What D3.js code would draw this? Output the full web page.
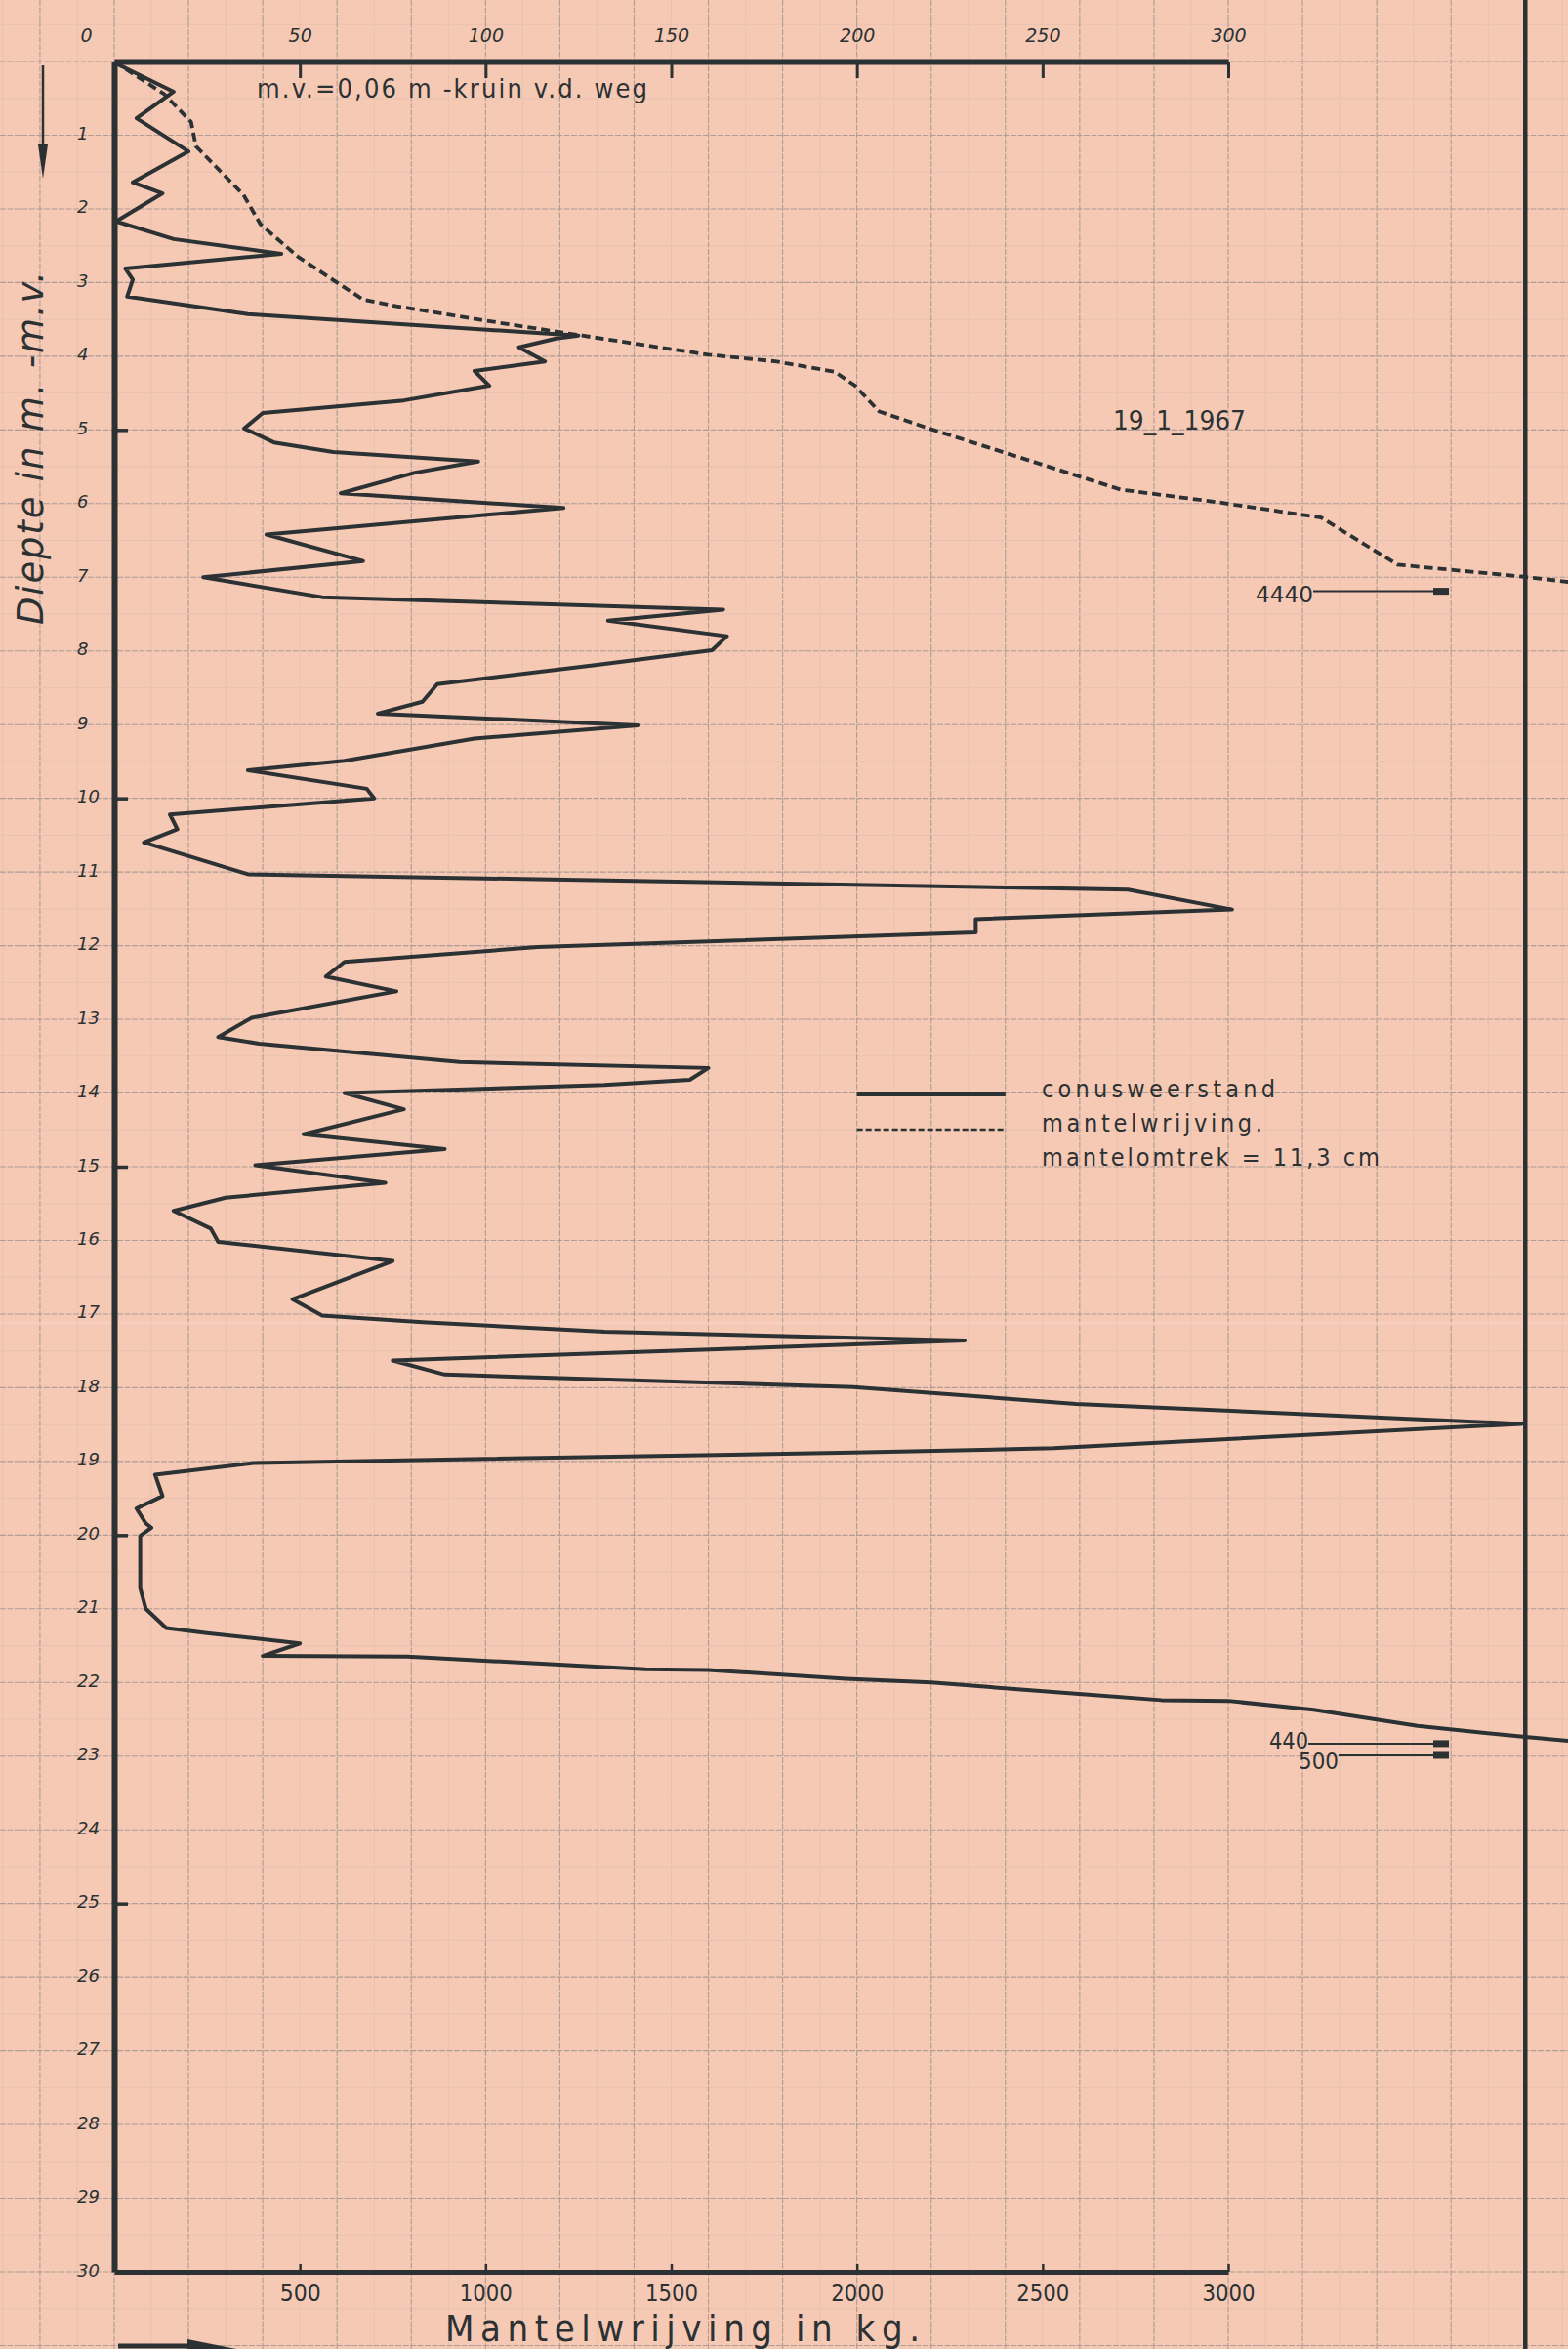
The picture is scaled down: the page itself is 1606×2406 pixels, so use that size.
<!DOCTYPE html>
<html lang="nl">
<head>
<meta charset="UTF-8">
<title>Sondering 19-1-1967</title>
<script src="https://cdn.jsdelivr.net/npm/d3@7"></script>
<style>
    body { margin: 0; background: #f5c9b4; }
    svg { display: block; }
    .grid line { stroke: #ae9c95; stroke-width: 1.1; stroke-dasharray: 6,1.5; }
    .grid2 line { stroke: #e8c2b0; stroke-width: 1; }
    .lbl { fill: #2c3133; font-family: "DejaVu Sans Condensed", "Liberation Sans Narrow", "DejaVu Sans", sans-serif; font-stretch: condensed; }
    .ital { fill: #2c3133; font-family: "DejaVu Sans", "Liberation Sans", sans-serif; font-style: italic; }
</style>
</head>
<body>
<svg id="vis" width="1606" height="2406"></svg>
<script>
    // conusweerstand (kg/cm2, bovenste schaal)
    const conusDepth = [0, 0.04, 0.41, 0.77, 1.22, 1.64, 1.79, 2.17, 2.41, 2.61, 2.81, 2.96, 3.19, 3.43, 3.72, 3.76, 3.88, 4.07, 4.20, 4.40,
        4.60, 4.77, 4.98, 5.17, 5.30, 5.43, 5.58, 5.86, 6.06, 6.42, 6.78, 7.00, 7.27, 7.44, 7.59, 7.80, 7.99, 8.19, 8.45, 8.69,
        8.85, 9.01, 9.19, 9.49, 9.62, 9.87, 10.00, 10.22, 10.42, 10.60, 11.03, 11.24, 11.51, 11.64, 11.82, 12.02, 12.22, 12.42, 12.62, 12.98,
        13.24, 13.33, 13.58, 13.66, 13.82, 13.89, 14.00, 14.22, 14.56, 14.76, 14.98, 15.22, 15.42, 15.60, 15.84, 16.02, 16.28, 16.80, 17.02, 17.11,
        17.24, 17.36, 17.63, 17.82, 17.99, 18.22, 18.49, 18.82, 18.88, 19.02, 19.18, 19.47, 19.64, 19.84, 19.90, 20.01, 20.72, 21.00, 21.26, 21.33,
        21.47, 21.64, 21.65, 21.71, 21.82, 21.83, 21.95, 22.00, 22.15, 22.24, 22.25, 22.37, 22.59, 22.74, 22.85];
    const conusValue = [0, 1, 16, 6, 20, 5, 13, 0.5, 16, 45, 3, 5, 3.5, 36, 125, 119, 109, 116, 97, 101,
        78, 40, 35, 43, 59, 98, 81, 61, 121, 41, 67, 24, 56, 164, 133, 165, 161, 130, 87, 83,
        71, 141, 97, 62, 36, 68, 70, 15, 17, 8, 36, 273, 301, 232, 232, 114, 62, 57, 76, 37,
        28, 39, 93, 160, 155, 132, 62, 78, 51, 89, 38, 73, 30, 16, 26, 28, 75, 48, 56, 83,
        132, 229, 75, 89, 199, 259, 379, 253, 199, 38, 11, 13, 6, 8.5, 10, 7, 7, 8.5, 14, 25,
        50, 40, 79, 102, 143, 160, 197, 220, 258, 282, 300, 323, 351, 380, 405];

    // mantelwrijving (kg, onderste schaal)
    const mantelDepth = [0, 0.44, 0.82, 1.15, 1.81, 2.21, 2.65, 3.05, 3.23, 3.32, 3.54, 3.72, 3.98, 4.07, 4.21, 4.40, 4.75, 4.99, 5.81, 5.98,
        6.19, 6.83, 6.99, 7.06, 7.12];
    const mantelValue = [0, 134, 207, 220, 348, 394, 495, 615, 670, 760, 1030, 1260, 1600, 1780, 1940, 1995, 2060, 2200, 2710, 2970,
        3250, 3456, 3790, 3910, 4020];

    const conusTicks = [0, 50, 100, 150, 200, 250, 300];
    const mantelTicks = [500, 1000, 1500, 2000, 2500, 3000];
    const depthTicks = [1, 2, 3, 4, 5, 6, 7, 8, 9, 10, 11, 12, 13, 14, 15, 16, 17, 18, 19, 20, 21, 22, 23, 24, 25, 26, 27, 28, 29, 30];
    const depthMajor = [5, 10, 15, 20, 25];

    const ink = "#2c3133";

    let svg = d3.select("#vis");
    let width = +svg.attr("width");
    let height = +svg.attr("height");

    let x = d3.scaleLinear().domain([0, 300]).range([117, 1258]);
    let xm = d3.scaleLinear().domain([0, 3000]).range([117, 1258]);
    let y = d3.scaleLinear().domain([0, 30]).range([63, 2327]);

    svg.append("rect").attr("width", width).attr("height", height).attr("fill", "#f5c9b4");

    /* ruitjespapier */
    let g2 = svg.append("g").attr("class", "grid2");
    g2.selectAll("line.v").data(d3.range(-30, 400, 20)).join("line").attr("class", "v")
        .attr("x1", d => x(d)).attr("x2", d => x(d)).attr("y1", 0).attr("y2", height);
    g2.selectAll("line.h").data(d3.range(-0.5, 31, 1)).join("line").attr("class", "h")
        .attr("x1", 0).attr("x2", width).attr("y1", d => y(d)).attr("y2", d => y(d));

    let g = svg.append("g").attr("class", "grid");
    g.selectAll("line.v").data(d3.range(-20, 400, 20)).join("line").attr("class", "v")
        .attr("x1", d => x(d)).attr("x2", d => x(d)).attr("y1", 0).attr("y2", height);
    g.selectAll("line.h").data(d3.range(0, 32, 1)).join("line").attr("class", "h")
        .attr("x1", 0).attr("x2", width).attr("y1", d => y(d)).attr("y2", d => y(d));

    // vouw in het papier
    svg.append("line").attr("x1", 0).attr("x2", width).attr("y1", y(17.12)).attr("y2", y(17.12))
        .attr("stroke", "#f7d6c6").attr("stroke-width", 2.5).attr("opacity", 0.6);

    /* assen */
    let topAxis = svg.append("g")
        .attr("transform", "translate(0," + y(0) + ")")
        .call(d3.axisTop(x).tickValues(conusTicks).tickSizeInner(-17).tickSizeOuter(0).tickPadding(20));
    topAxis.select(".domain").attr("stroke", ink).attr("stroke-width", 6);
    topAxis.selectAll(".tick line").attr("stroke", ink).attr("stroke-width", 3);
    topAxis.selectAll(".tick text").attr("class", "ital").style("font-size", "19px");
    topAxis.selectAll(".tick").filter(d => d === 0).select("line").remove();
    topAxis.selectAll(".tick").filter(d => d === 0).select("text").attr("x", -29);

    let leftAxis = svg.append("g")
        .attr("transform", "translate(" + x(0) + ",0)")
        .call(d3.axisRight(y).tickValues(depthMajor).tickSizeInner(14).tickSizeOuter(0).tickFormat(""));
    leftAxis.select(".domain").attr("stroke", ink).attr("stroke-width", 6);
    leftAxis.selectAll(".tick line").attr("stroke", ink).attr("stroke-width", 3.5);

    let bottomAxis = svg.append("g")
        .attr("transform", "translate(0," + y(30) + ")")
        .call(d3.axisBottom(xm).tickValues(mantelTicks).tickSizeInner(-8).tickSizeOuter(0).tickPadding(12)
            .tickFormat(d3.format("d")));
    bottomAxis.select(".domain").attr("stroke", ink).attr("stroke-width", 5);
    bottomAxis.selectAll(".tick line").attr("stroke", ink).attr("stroke-width", 2.5);
    bottomAxis.selectAll(".tick text").attr("class", "lbl").style("font-size", "25px")
        .attr("textLength", 42).attr("lengthAdjust", "spacingAndGlyphs");
    bottomAxis.selectAll(".tick").filter(d => d >= 1000).select("text")
        .attr("textLength", 54);

    // rechter kader
    svg.append("line").attr("x1", x(380)).attr("x2", x(380)).attr("y1", 0).attr("y2", height)
        .attr("stroke", ink).attr("stroke-width", 4.5);

    svg.selectAll("text.depth")
        .data(depthTicks)
        .join("text")
        .attr("class", "ital depth")
        .attr("x", 79)
        .attr("y", d => y(d) - 2)
        .attr("dominant-baseline", "central")
        .style("font-size", "18px")
        .text(d => d);

    /* lijnen */
    let conus = conusDepth.map((d, i) => [conusValue[i], d]);
    let mantel = mantelDepth.map((d, i) => [mantelValue[i], d]);

    svg.append("path")
        .datum(mantel)
        .attr("d", d3.line().x(d => xm(d[0])).y(d => y(d[1])))
        .attr("fill", "none").attr("stroke", ink).attr("stroke-width", 3.8)
        .attr("stroke-dasharray", "9,5");

    svg.append("path")
        .datum(conus)
        .attr("d", d3.line().x(d => x(d[0])).y(d => y(d[1])))
        .attr("fill", "none").attr("stroke", ink).attr("stroke-width", 4)
        .attr("stroke-linejoin", "round");

    /* teksten */
    svg.append("text").attr("class", "lbl").attr("x", 263).attr("y", 100)
        .attr("textLength", 400).style("font-size", "27px")
        .text("m.v.=0,06 m -kruin v.d. weg");

    svg.append("text").attr("class", "lbl").attr("x", 1140).attr("y", 440)
        .attr("textLength", 136).attr("lengthAdjust", "spacingAndGlyphs").style("font-size", "27px")
        .text("19_1_1967");

    svg.append("text").attr("class", "ital")
        .attr("transform", "translate(44,640) rotate(-90)")
        .attr("textLength", 362).style("font-size", "37px")
        .text("Diepte in m. -m.v.");

    svg.append("text").attr("class", "lbl").attr("x", 456).attr("y", 2398)
        .attr("textLength", 486).style("font-size", "38px")
        .text("Mantelwrijving  in  kg.");

    // pijlen
    svg.append("line").attr("x1", 44).attr("x2", 44).attr("y1", 67).attr("y2", 160)
        .attr("stroke", ink).attr("stroke-width", 2.5);
    svg.append("path").attr("d", "M39,148 L49,148 L44,183 Z").attr("fill", ink);
    svg.append("line").attr("x1", 121).attr("x2", 200).attr("y1", 2403).attr("y2", 2403)
        .attr("stroke", ink).attr("stroke-width", 5);
    svg.append("path").attr("d", "M192,2396 L242,2406 L192,2416 Z").attr("fill", ink);

    /* legenda */
    svg.append("line").attr("x1", x(200)).attr("x2", x(240)).attr("y1", 1121).attr("y2", 1121)
        .attr("stroke", ink).attr("stroke-width", 4);
    svg.append("line").attr("x1", x(200)).attr("x2", x(240)).attr("y1", 1157).attr("y2", 1157)
        .attr("stroke", ink).attr("stroke-width", 2.5).attr("stroke-dasharray", "6,3");
    const legend = [["conusweerstand", 1124, 239], ["mantelwrijving.", 1159, 226], ["mantelomtrek = 11,3 cm", 1194, 346]];
    svg.selectAll("text.leg").data(legend).join("text")
        .attr("class", "lbl leg").attr("x", 1067).attr("y", d => d[1])
        .attr("textLength", d => d[2]).style("font-size", "25px")
        .text(d => d[0]);

    /* waarden buiten de schaal */
    const offScale = [["4440", 7.19, 1286, 1345, 617], ["440", 22.83, 1300, 1340, 1791], ["500", 22.99, 1330, 1371, 1812]];
    offScale.forEach(function(o) {
        svg.append("text").attr("class", "lbl").attr("x", o[2]).attr("y", o[4])
            .style("font-size", "23px").attr("textLength", o[3] - o[2]).attr("lengthAdjust", "spacingAndGlyphs")
            .text(o[0]);
        svg.append("line").attr("x1", o[3]).attr("x2", 1478).attr("y1", y(o[1])).attr("y2", y(o[1]))
            .attr("stroke", ink).attr("stroke-width", 2);
        svg.append("rect").attr("x", 1468).attr("y", y(o[1]) - 3.5).attr("width", 16).attr("height", 7).attr("fill", ink);
    });
</script>
</body>
</html>
